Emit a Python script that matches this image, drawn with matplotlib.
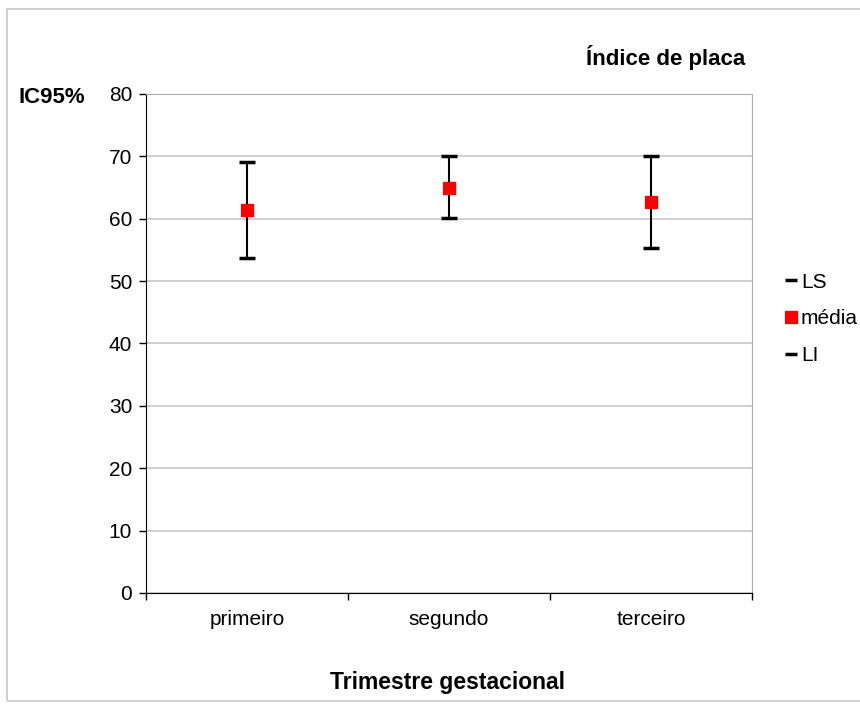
import matplotlib.pyplot as plt
from matplotlib.lines import Line2D
from matplotlib.patches import Rectangle

plt.rcParams['font.family'] = ['Liberation Sans', 'DejaVu Sans']

# data
trimestres = ["primeiro", "segundo", "terceiro"]
media = [61.4, 64.9, 62.7]
ls = [69.1, 70.0, 70.0]
li = [53.7, 60.1, 55.3]

fig = plt.figure(figsize=(8.6, 7.04), dpi=100)
ax = fig.add_axes([0.1698, 0.1577, 0.7047, 0.7088])

# outer frame of the chart area
fig.patches.append(Rectangle((0.008, 0.004), 0.995, 0.983, transform=fig.transFigure,
                             fill=False, edgecolor="#c8c8c8", linewidth=1.2))

x = list(range(len(trimestres)))
err_low = [m - l for m, l in zip(media, li)]
err_high = [s - m for s, m in zip(ls, media)]
ax.errorbar(x, media, yerr=[err_low, err_high], fmt="none", ecolor="black",
            elinewidth=1.5, capsize=6, capthick=2.5, zorder=3)
ax.plot(x, media, "s", color="red", markersize=8.5, linestyle="none", zorder=4)

ax.set_xlim(-0.5, 2.5)
ax.set_ylim(0, 80)
ax.set_yticks(range(0, 81, 10))
ax.set_xticks([-0.5, 0.5, 1.5, 2.5])
ax.set_xticklabels([])
ax.set_xticks(x, minor=True)
ax.set_xticklabels(trimestres, minor=True)
ax.tick_params(axis="x", which="minor", length=0, pad=12, labelsize=15)
ax.tick_params(axis="x", which="major", length=5, direction="out", width=1)
ax.tick_params(axis="y", length=5, direction="out", width=1, labelsize=15, pad=5)

ax.grid(axis="y", color="#c8c8c8", linewidth=1.2)
ax.set_axisbelow(True)
ax.spines["top"].set_color("#b0b0b0")
ax.spines["right"].set_color("#b0b0b0")
ax.spines["left"].set_color("black")
ax.spines["bottom"].set_color("black")

fig.text(0.5209, 0.031, "Trimestre gestacional", ha="center", va="center",
         fontsize=16.5, fontweight="bold")
fig.text(0.022, 0.862, "IC95%", ha="left", va="center", fontsize=16, fontweight="bold")
fig.text(0.866, 0.919, "Índice de placa", ha="right", va="center",
         fontsize=16, fontweight="bold")

handles = [
    Line2D([], [], color="black", marker="_", markersize=9, markeredgewidth=2.5, linestyle="none"),
    Line2D([], [], color="red", marker="s", markersize=8.5, linestyle="none"),
    Line2D([], [], color="black", marker="_", markersize=9, markeredgewidth=2.5, linestyle="none"),
]
fig.legend(handles, ["LS", "média", "LI"], loc="center left",
           bbox_to_anchor=(0.912, 0.547), frameon=False, fontsize=15,
           handlelength=0.6, handletextpad=0.2, labelspacing=0.85,
           borderpad=0, borderaxespad=0)

fig.savefig("out.png", dpi=100)
